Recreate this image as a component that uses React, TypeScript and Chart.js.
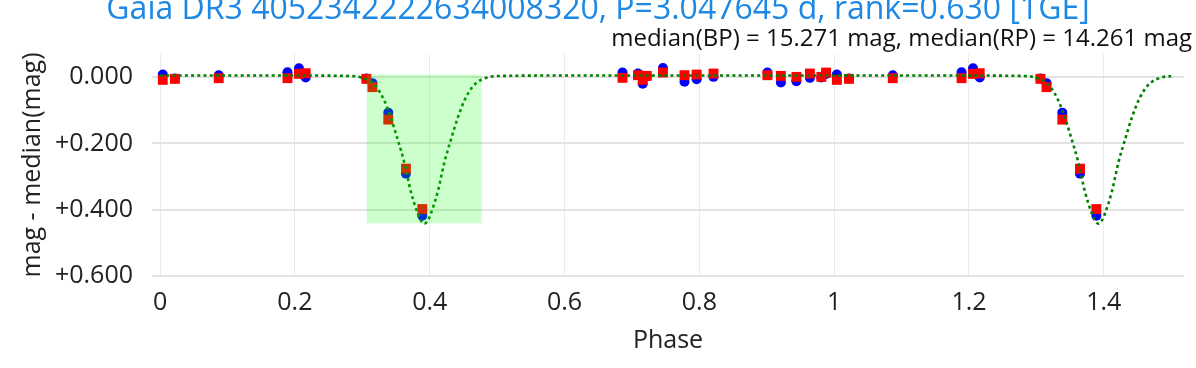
import React, { useEffect, useRef } from 'react';
import { Chart, registerables } from 'chart.js';

Chart.register(...registerables);

const titleText = 'Gaia DR3 4052342222634008320, P=3.047645 d, rank=0.630 [1GE]';
const subtitleText = 'median(BP) = 15.271 mag, median(RP) = 14.261 mag';
const xAxisTitle = 'Phase';
const yAxisTitle = 'mag - median(mag)';

// observed phases (0..1) with BP and RP magnitude offsets
const obsPhase = [
  0.004, 0.022, 0.087, 0.189, 0.206, 0.216, 0.306, 0.315, 0.3385, 0.3647, 0.389,
  0.686, 0.709, 0.716, 0.722, 0.746, 0.778, 0.796, 0.821, 0.901, 0.921, 0.944,
  0.964, 0.981, 0.988,
];
const bpMag = [
  -0.008, 0.004, -0.006, -0.015, -0.027, 0.001, 0.004, 0.018, 0.107, 0.291, 0.418,
  -0.014, -0.011, 0.020, -0.002, -0.028, 0.014, 0.006, -0.001, -0.014, 0.016, 0.012,
  0.002, 0.001, -0.010,
];
const rpMag = [
  0.008, 0.005, 0.003, 0.003, -0.010, -0.012, 0.005, 0.030, 0.128, 0.276, 0.398,
  0.002, -0.006, 0.008, -0.004, -0.014, -0.006, -0.008, -0.011, -0.006, -0.004, -0.001,
  -0.011, -0.001, -0.014,
];

// model light curve
const modelPhase = [
  0.0, 0.1, 0.2, 0.272, 0.292, 0.302, 0.312, 0.322, 0.332, 0.342, 0.352, 0.362, 0.372,
  0.382, 0.387, 0.392, 0.397, 0.402, 0.412, 0.422, 0.432, 0.442, 0.452, 0.462, 0.472,
  0.482, 0.492, 0.512, 0.6, 0.7, 0.8, 0.9, 1.0, 1.1, 1.2, 1.272, 1.292, 1.302, 1.312,
  1.322, 1.332, 1.342, 1.352, 1.362, 1.372, 1.382, 1.387, 1.392, 1.397, 1.402, 1.412,
  1.422, 1.432, 1.442, 1.452, 1.462, 1.472, 1.482, 1.492, 1.5,
];
const modelMag = [
  -0.005, -0.005, -0.005, -0.004, -0.002, 0.003, 0.013, 0.033, 0.068, 0.12, 0.185, 0.255, 0.345,
  0.41, 0.433, 0.442, 0.433, 0.41, 0.345, 0.255, 0.185, 0.12, 0.068, 0.033, 0.013,
  0.003, -0.002, -0.004, -0.005, -0.005, -0.005, -0.005, -0.005, -0.005, -0.005, -0.004, -0.002, 0.003, 0.013,
  0.033, 0.068, 0.12, 0.185, 0.255, 0.345, 0.41, 0.433, 0.442, 0.433, 0.41, 0.345,
  0.255, 0.185, 0.12, 0.068, 0.033, 0.013, 0.003, -0.002, -0.003,
];

// highlighted eclipse window
const windowPhase = [0.3064, 0.477];
const windowMag = [-0.008, 0.441];

const xTickValues = [0, 0.2, 0.4, 0.6, 0.8, 1, 1.2, 1.4];
const xTickLabels = ['0', '0.2', '0.4', '0.6', '0.8', '1', '1.2', '1.4'];
const yTickValues = [0, 0.2, 0.4, 0.6];
const yTickLabels = ['0.000', '+0.200', '+0.400', '+0.600'];

const FONT = "'Open Sans', sans-serif";

function foldPoints(mags: number[]) {
  const pts = obsPhase.map((p, i) => ({ x: p, y: mags[i] }));
  const extra = obsPhase
    .map((p, i) => ({ x: p + 1, y: mags[i] }))
    .filter((pt) => pt.x < 1.5);
  return pts.concat(extra);
}

const titlesPlugin = {
  id: 'titlesPlugin',
  afterDraw(chart: any) {
    const ctx = chart.ctx;
    ctx.save();
    ctx.font = `32px ${FONT}`;
    ctx.fillStyle = '#1e88e5';
    ctx.textAlign = 'center';
    ctx.textBaseline = 'alphabetic';
    ctx.fillText(titleText, 598, 19);
    ctx.font = `24px ${FONT}`;
    ctx.fillStyle = '#111111';
    ctx.textAlign = 'right';
    ctx.fillText(subtitleText, 1192, 46);
    ctx.restore();
  },
};

const windowPlugin = {
  id: 'windowPlugin',
  afterDatasetsDraw(chart: any) {
    const { ctx, scales } = chart;
    const x0 = scales.x.getPixelForValue(windowPhase[0]);
    const x1 = scales.x.getPixelForValue(windowPhase[1]);
    const y0 = scales.y.getPixelForValue(windowMag[0]);
    const y1 = scales.y.getPixelForValue(windowMag[1]);
    ctx.save();
    ctx.fillStyle = 'rgba(0,255,0,0.2)';
    ctx.fillRect(Math.min(x0, x1), Math.min(y0, y1), Math.abs(x1 - x0), Math.abs(y1 - y0));
    ctx.restore();
  },
};

export default function App() {
  const ref = useRef<HTMLCanvasElement | null>(null);

  useEffect(() => {
    if (!ref.current) return;
    const chart = new Chart(ref.current, {
      type: 'scatter',
      data: {
        datasets: [
          {
            label: 'model',
            data: modelPhase.map((p, i) => ({ x: p, y: modelMag[i] })),
            showLine: true,
            borderColor: '#008000',
            borderWidth: 2.6,
            borderDash: [3, 3.2],
            pointRadius: 0,
            cubicInterpolationMode: 'monotone',
          },
          {
            label: 'RP',
            data: foldPoints(rpMag),
            backgroundColor: '#ff0000',
            borderWidth: 0,
            pointStyle: 'rect',
            pointRadius: 7,
          },
          {
            label: 'BP',
            data: foldPoints(bpMag),
            backgroundColor: '#0000ff',
            borderWidth: 0,
            pointStyle: 'circle',
            pointRadius: 5,
          },
        ],
      },
      options: {
        animation: false,
        responsive: false,
        devicePixelRatio: 1,
        layout: { padding: { left: 0, right: 12, top: 54, bottom: 0 } },
        plugins: {
          legend: { display: false },
          title: { display: false },
          tooltip: { enabled: false },
        },
        scales: {
          x: {
            type: 'linear',
            min: -0.012,
            max: 1.519,
            afterBuildTicks: (s: any) => {
              s.ticks = xTickValues.map((v) => ({ value: v }));
            },
            afterFit: (s: any) => {
              s.height = 92;
            },
            ticks: {
              autoSkip: false,
              maxRotation: 0,
              padding: 12,
              color: '#222222',
              font: { family: FONT, size: 25 },
              callback: (v: any) => xTickLabels[xTickValues.indexOf(Number(v))] ?? '',
            },
            grid: { color: '#ebebeb', lineWidth: 1, drawTicks: false },
            border: { display: false },
            title: {
              display: true,
              text: xAxisTitle,
              color: '#222222',
              font: { family: FONT, size: 25 },
              padding: { top: 0, bottom: 12 },
            },
          },
          y: {
            type: 'linear',
            reverse: true,
            min: -0.07,
            max: 0.6,
            afterBuildTicks: (s: any) => {
              s.ticks = yTickValues.map((v) => ({ value: v }));
            },
            afterFit: (s: any) => {
              s.width = 152;
            },
            ticks: {
              padding: 19,
              color: '#222222',
              font: { family: FONT, size: 25 },
              callback: (v: any) => yTickLabels[yTickValues.indexOf(Number(v))] ?? '',
            },
            grid: { color: '#e3e3e3', lineWidth: 2, drawTicks: false },
            border: { display: false },
            title: {
              display: true,
              text: yAxisTitle,
              color: '#222222',
              font: { family: FONT, size: 25 },
              padding: { top: 18, bottom: 0 },
            },
          },
        },
      },
      plugins: [windowPlugin, titlesPlugin],
    } as any);
    return () => chart.destroy();
  }, []);

  return (
    <div style={{ position: 'fixed', left: 0, top: 0, width: 1196, height: 368, background: '#ffffff' }}>
      <canvas ref={ref} width={1196} height={368} style={{ display: 'block', width: 1196, height: 368 }} />
    </div>
  );
}
